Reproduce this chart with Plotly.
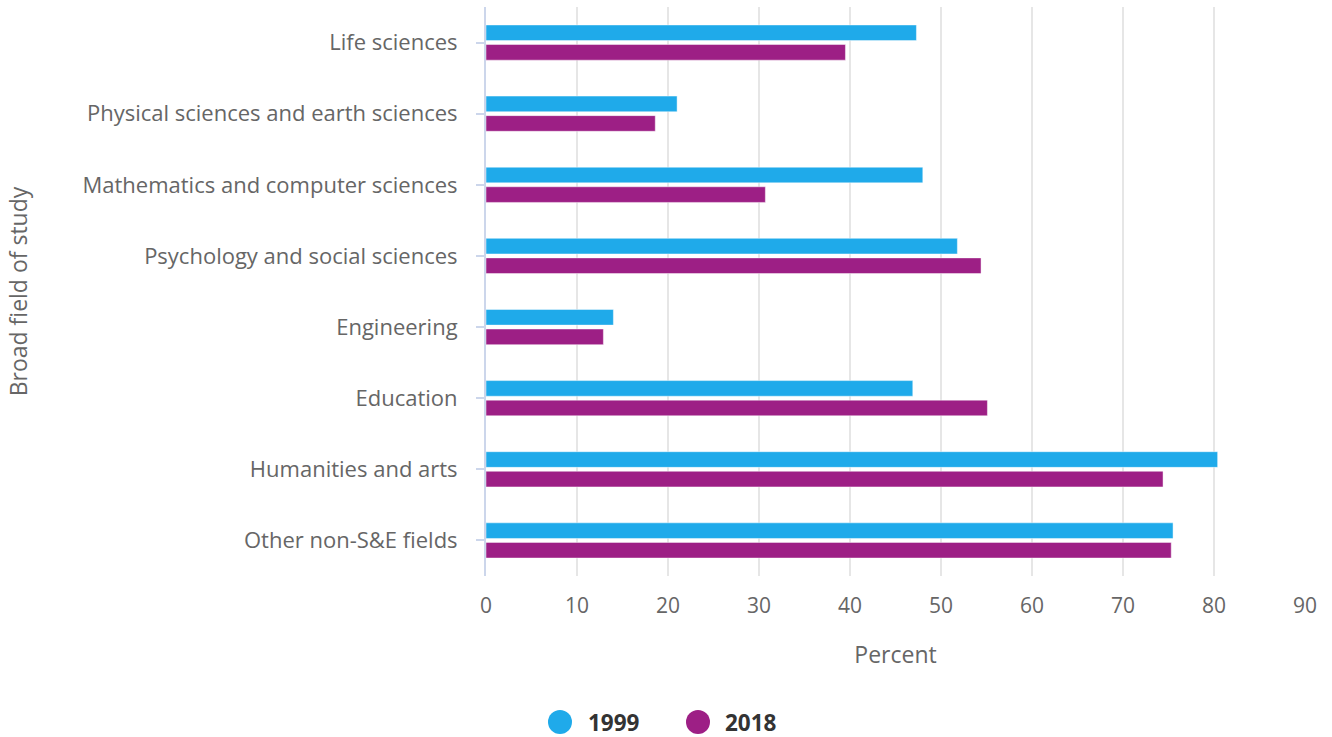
import plotly.graph_objects as go

categories = [
    "Life sciences",
    "Physical sciences and earth sciences",
    "Mathematics and computer sciences",
    "Psychology and social sciences",
    "Engineering",
    "Education",
    "Humanities and arts",
    "Other non-S&E fields",
]
values_1999 = [47.3, 21.0, 48.0, 51.8, 14.0, 46.9, 80.4, 75.5]
values_2018 = [39.5, 18.6, 30.7, 54.4, 12.9, 55.1, 74.4, 75.3]
x_ticks = [0, 10, 20, 30, 40, 50, 60, 70, 80, 90]
series_names = ["1999", "2018"]

c1999 = "#1faaea"
c2018 = "#9d1f85"
colors = [c1999, c2018]
font_family = "Open Sans, Noto Sans, DejaVu Sans, sans-serif"

W, H = 1332, 737
L, R, T, B = 486, 27, 7, 161
PW, PH = W - L - R, H - T - B

fig = go.Figure()
for name, vals, col in zip(series_names, [values_1999, values_2018], colors):
    fig.add_trace(go.Bar(y=categories, x=vals, orientation="h", name=name,
                         marker=dict(color=col, line=dict(width=1, color="rgba(255,255,255,0.45)")),
                         showlegend=False))

# custom legend (circle + bold label), positioned in pixels converted to paper coords
def px_x(px):
    return (px - L) / PW

def px_y(py):
    return (H - B - py) / PH

legend_items = [(560, 586), (698, 723)]
ly = 722
r = 12
for (cx, tx), name, col in zip(legend_items, series_names, colors):
    fig.add_shape(type="circle", xref="paper", yref="paper",
                  x0=px_x(cx - r), x1=px_x(cx + r), y0=px_y(ly + r), y1=px_y(ly - r),
                  fillcolor=col, line=dict(width=0))
    fig.add_annotation(xref="paper", yref="paper", x=px_x(tx), y=px_y(ly),
                       xanchor="left", yanchor="middle", showarrow=False, text=name,
                       font=dict(size=22.5, color="#333333", family="Open Sans, sans-serif", weight="bold"))

fig.update_layout(
    width=W, height=H,
    margin=dict(l=L, r=R, t=T, b=B, autoexpand=False),
    paper_bgcolor="white", plot_bgcolor="white",
    barmode="group", bargap=0.45, bargroupgap=0.2,
    font=dict(family=font_family, color="#666666", size=21),
    showlegend=False,
)
fig.update_xaxes(
    range=[0, 90], tickvals=x_ticks, showgrid=True, gridcolor="#e6e6e6", gridwidth=2,
    zeroline=False, showline=False, ticks="", ticklabelstandoff=15,
    tickfont=dict(size=21, color="#666666"),
    title=dict(text="Percent", font=dict(size=23, color="#666666"), standoff=28),
)
fig.update_yaxes(
    categoryorder="array", categoryarray=categories, autorange="reversed",
    showgrid=False, zeroline=False, showline=True, linecolor="#ccd6eb", linewidth=2,
    ticks="outside", ticklen=8, tickcolor="#ccd6eb", tickwidth=2,
    ticklabelstandoff=14,
    tickfont=dict(size=22, color="#666666"),
    title=dict(text="Broad field of study", font=dict(size=23, color="#666666"), standoff=48),
)

fig.write_html("out.html",
               config={"displayModeBar": False},
               post_script="document.body.style.margin='0';document.body.style.overflow='hidden';")
